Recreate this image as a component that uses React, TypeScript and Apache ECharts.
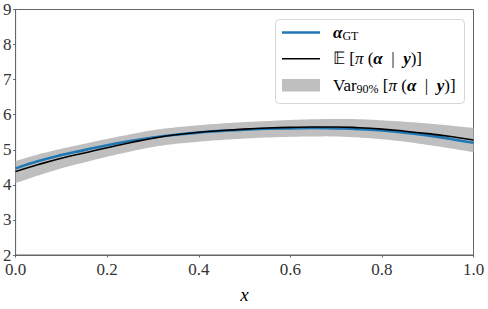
import React, { useEffect, useRef } from "react";
import * as echarts from "echarts";

const xs = [0, 0.05, 0.1, 0.15, 0.2, 0.25, 0.3, 0.35, 0.4, 0.45, 0.5, 0.55, 0.6, 0.65, 0.7, 0.75, 0.8, 0.85, 0.9, 0.95, 1.0];
const gtValues = [4.47, 4.68, 4.85, 4.99, 5.13, 5.25, 5.35, 5.43, 5.49, 5.54, 5.57, 5.6, 5.61, 5.62, 5.61, 5.59, 5.55, 5.49, 5.41, 5.31, 5.2];
const meanValues = [4.38, 4.58, 4.76, 4.91, 5.06, 5.2, 5.33, 5.43, 5.5, 5.55, 5.59, 5.62, 5.64, 5.65, 5.65, 5.63, 5.59, 5.53, 5.46, 5.38, 5.28];
const bandLower = [4.05, 4.27, 4.47, 4.64, 4.8, 4.95, 5.08, 5.17, 5.23, 5.28, 5.32, 5.35, 5.37, 5.38, 5.38, 5.35, 5.3, 5.23, 5.14, 5.04, 4.93];
const bandUpper = [4.68, 4.87, 5.03, 5.17, 5.31, 5.44, 5.56, 5.64, 5.7, 5.75, 5.79, 5.82, 5.85, 5.87, 5.88, 5.87, 5.84, 5.8, 5.75, 5.69, 5.62];
const xTicks = [0, 0.2, 0.4, 0.6, 0.8, 1.0];
const yTicks = [2, 3, 4, 5, 6, 7, 8, 9];

const FONT = "Liberation Serif";
const AXIS_COLOR = "#666";
const BLUE = "#1f77b4";
const GRAY = "#bfbfbf";

function catmull(points: number[][], steps: number): number[][] {
  const out: number[][] = [];
  const n = points.length;
  for (let i = 0; i < n - 1; i++) {
    const p0 = points[Math.max(0, i - 1)];
    const p1 = points[i];
    const p2 = points[i + 1];
    const p3 = points[Math.min(n - 1, i + 2)];
    for (let s = 0; s < steps; s++) {
      const t = s / steps;
      const t2 = t * t;
      const t3 = t2 * t;
      const f = (a: number, b: number, c: number, d: number) =>
        0.5 * (2 * b + (-a + c) * t + (2 * a - 5 * b + 4 * c - d) * t2 + (-a + 3 * b - 3 * c + d) * t3);
      out.push([f(p0[0], p1[0], p2[0], p3[0]), f(p0[1], p1[1], p2[1], p3[1])]);
    }
  }
  out.push(points[n - 1]);
  return out;
}

export default function App() {
  const ref = useRef<HTMLDivElement>(null);
  useEffect(() => {
    if (!ref.current) return;
    const chart = echarts.init(ref.current, undefined, { renderer: "svg" });
    const pairs = (ys: number[]) => xs.map((x, i) => [x, ys[i]]);
    const rich = {
      n: { fontFamily: FONT, fontSize: 17, color: "#000", lineHeight: 20 },
      i: { fontFamily: FONT, fontSize: 17, color: "#000", fontStyle: "italic", lineHeight: 20 },
      bi: { fontFamily: FONT, fontSize: 17, color: "#000", fontStyle: "italic", fontWeight: "bold", lineHeight: 20 },
      sub: { fontFamily: FONT, fontSize: 12, color: "#000", lineHeight: 20, padding: [7, 0, 0, 0] },
    };
    const tickRich = { t: { fontFamily: FONT, fontSize: 17, color: "#333", lineHeight: 18 } };
    const legendRows = [
      { y: 32.5, text: "{bi|α}{sub|GT}" },
      { y: 58.7, text: "{n|𝔼 [}{i|π}{n| (}{bi|α}{n|  |  }{bi|y}{n|)]}" },
      { y: 85.3, text: "{n|Var}{sub|90%}{n| [}{i|π}{n| (}{bi|α}{n|  |  }{bi|y}{n|)]}" },
    ];
    chart.setOption({
      animation: false,
      grid: {
        left: 15.6,
        right: 14.5,
        top: 9.5,
        bottom: 43.5,
        show: true,
        borderColor: AXIS_COLOR,
        borderWidth: 1,
        containLabel: false,
      },
      xAxis: {
        type: "value",
        min: 0,
        max: 1,
        interval: 0.2,
        name: "{x|x}",
        nameLocation: "middle",
        nameGap: 30,
        nameTextStyle: {
          rich: { x: { fontFamily: FONT, fontSize: 19, fontStyle: "italic", color: "#000" } },
        },
        axisLine: { show: true, lineStyle: { color: AXIS_COLOR, width: 1 } },
        axisTick: { show: true, length: 2.5, lineStyle: { color: AXIS_COLOR } },
        axisLabel: {
          margin: 5,
          rich: tickRich,
          formatter: (v: number) => (xTicks.includes(+v.toFixed(1)) ? `{t|${v.toFixed(1)}}` : ""),
        },
        splitLine: { show: false },
      },
      yAxis: {
        type: "value",
        min: yTicks[0],
        max: yTicks[yTicks.length - 1],
        interval: 1,
        axisLine: { show: true, lineStyle: { color: AXIS_COLOR, width: 1 } },
        axisTick: { show: true, length: 2.5, lineStyle: { color: AXIS_COLOR } },
        axisLabel: { margin: 4, rich: tickRich, formatter: (v: number) => `{t|${v}}` },
        splitLine: { show: false },
      },
      graphic: [
        {
          type: "group",
          z: 100,
          children: [
            {
              type: "rect",
              shape: { x: 275.5, y: 19.5, width: 189, height: 84, r: 4 },
              style: { fill: "#fff", stroke: "#d6d6d6", lineWidth: 1 },
            },
            {
              type: "line",
              shape: { x1: 282, y1: legendRows[0].y, x2: 320, y2: legendRows[0].y },
              style: { stroke: BLUE, lineWidth: 2.6 },
            },
            {
              type: "line",
              shape: { x1: 282, y1: legendRows[1].y, x2: 320, y2: legendRows[1].y },
              style: { stroke: "#000", lineWidth: 1.6 },
            },
            {
              type: "rect",
              shape: { x: 282, y: legendRows[2].y - 6.3, width: 38, height: 12.6 },
              style: { fill: GRAY },
            },
            ...legendRows.map((r) => ({
              type: "text",
              x: 333,
              y: r.y,
              style: { text: r.text, rich, verticalAlign: "middle", align: "left", fontFamily: FONT, fontSize: 17 },
            })),
          ],
        },
      ],
      series: [
        {
          name: "band",
          type: "custom",
          coordinateSystem: "cartesian2d",
          data: [[0, 0]],
          z: 1,
          silent: true,
          renderItem: (params: any, api: any) => {
            const up = catmull(pairs(bandUpper).map((p) => api.coord(p)), 8);
            const lo = catmull(pairs(bandLower).map((p) => api.coord(p)), 8);
            return {
              type: "polygon",
              shape: { points: up.concat(lo.reverse()) },
              style: { fill: GRAY, stroke: "none" },
            };
          },
        },
        {
          name: "gt",
          type: "line",
          data: pairs(gtValues),
          smooth: true,
          symbol: "none",
          lineStyle: { color: BLUE, width: 2.6 },
          z: 2,
        },
        {
          name: "mean",
          type: "line",
          data: pairs(meanValues),
          smooth: true,
          symbol: "none",
          lineStyle: { color: "#000", width: 1.6 },
          z: 3,
        },
      ],
    });
    return () => chart.dispose();
  }, []);
  return <div ref={ref} style={{ width: 488, height: 309, position: "absolute", left: 0, top: 0 }} />;
}
